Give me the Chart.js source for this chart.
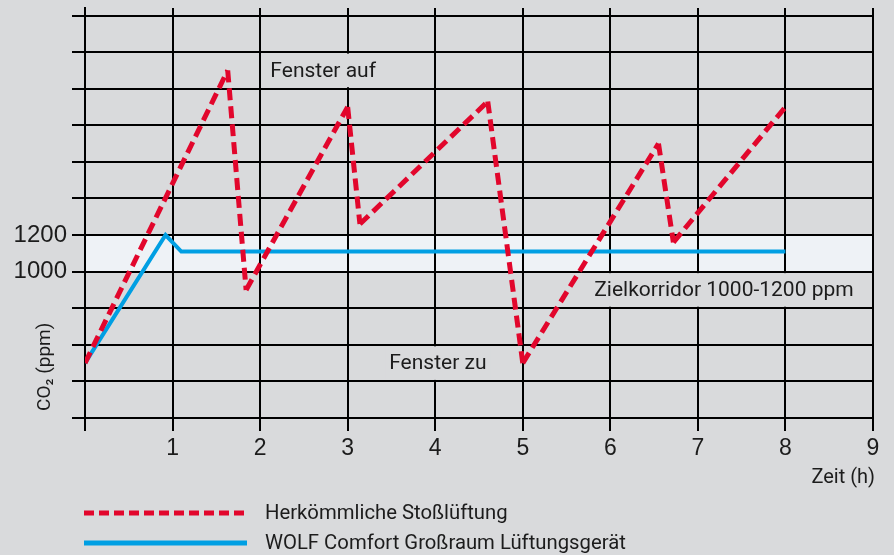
<!DOCTYPE html>
<html lang="de">
<head>
<meta charset="utf-8">
<title>CO₂-Verlauf: Stoßlüftung und Lüftungsgerät</title>
<script src="https://cdn.jsdelivr.net/npm/chart.js@4.4.1/dist/chart.umd.min.js"></script>
<style>
  html, body { margin: 0; padding: 0; background: #d9dadc; }
  #wrap { width: 894px; height: 555px; }
  canvas { display: block; }
</style>
</head>
<body>
<div id="wrap"><canvas id="co2" width="894" height="555"></canvas></div>
<script>
// Herkömmliche Stoßlüftung – Zeit (h) und CO2 (ppm)
const stossHours = [0, 1.63, 1.84, 3.0, 3.14, 4.6, 5.0, 6.55, 6.72, 8.0];
const stossPpm   = [500, 2100, 900, 1900, 1260, 1930, 500, 1700, 1160, 1900];

// WOLF Comfort Großraum Lüftungsgerät
const wolfHours = [0, 0.92, 1.1, 8.0];
const wolfPpm   = [500, 1200, 1110, 1110];

// Zielkorridor (ppm)
const corridor = [1000, 1200];

// Achsenbeschriftung
const yLabelled   = [1000, 1200];
const xTickLabels = ['', '1', '2', '3', '4', '5', '6', '7', '8', '9'];

const seriesNames = ['Herkömmliche Stoßlüftung', 'WOLF Comfort Großraum Lüftungsgerät'];
const RED  = '#e2062c';
const BLUE = '#009fe3';
const BG   = '#d9dadc';
const TEXT = '#1c1c1c';
const FONT = 'Roboto, "Liberation Sans", Arial, sans-serif';
const TICK_FONT = '"Liberation Sans", Arial, sans-serif';

// Beschriftungen im Diagramm, aus dem Raster ausgespart
const notes = [
  { text: 'Fenster auf', from: 2.06, to: 3.38, top: 2200, bottom: 2000 },
  { text: 'Fenster zu', from: 3.43, to: 4.63, top: 600, bottom: 400 },
  { text: 'Zielkorridor 1000-1200 ppm', from: 5.745, to: 8.85, top: 1000, bottom: 800 }
];

const toPoints = (xs, ys) => xs.map((x, i) => ({ x, y: ys[i] }));

const decorations = {
  id: 'decorations',
  beforeDraw(chart) {
    const { ctx, scales: { x, y } } = chart;
    ctx.save();
    ctx.fillStyle = BG;
    ctx.fillRect(0, 0, chart.width, chart.height);
    // heller Zielkorridor
    const x0 = x.getPixelForValue(0), x1 = x.getPixelForValue(9);
    const yTop = y.getPixelForValue(corridor[1]), yBot = y.getPixelForValue(corridor[0]);
    ctx.fillStyle = '#eef2f6';
    ctx.fillRect(x0, yTop, x1 - x0, yBot - yTop);
    ctx.restore();
  },
  beforeDatasetsDraw(chart) {
    const { ctx, scales: { x, y } } = chart;
    ctx.save();
    ctx.font = '21px ' + FONT;
    ctx.textAlign = 'center';
    ctx.textBaseline = 'middle';
    notes.forEach(n => {
      const l = x.getPixelForValue(n.from), r = x.getPixelForValue(n.to);
      const t = y.getPixelForValue(n.top) + 1.5, b = y.getPixelForValue(n.bottom) - 1.5;
      ctx.fillStyle = BG;
      ctx.fillRect(l, t, r - l, b - t);
      ctx.fillStyle = TEXT;
      ctx.fillText(n.text, (l + r) / 2, (t + b) / 2 + 1);
    });
    ctx.restore();
  },
  afterDraw(chart) {
    const { ctx, scales: { x, y }, chartArea } = chart;
    ctx.save();
    ctx.fillStyle = TEXT;

    // Achsentitel Zeit
    ctx.font = '20px ' + FONT;
    ctx.textAlign = 'right';
    ctx.textBaseline = 'middle';
    ctx.fillText('Zeit (h)', x.getPixelForValue(9) + 2, chartArea.bottom + 60);

    // Achsentitel CO2, senkrecht
    ctx.save();
    ctx.translate(45, y.getPixelForValue(480));
    ctx.rotate(-Math.PI / 2);
    ctx.font = '19px ' + FONT;
    ctx.textAlign = 'center';
    ctx.fillText('CO₂ (ppm)', 0, 0);
    ctx.restore();

    // Legende
    const lx0 = x.getPixelForValue(0) - 1, lx1 = lx0 + 163;
    const rows = [chartArea.bottom + 95, chartArea.bottom + 125];
    chart.data.datasets.forEach((ds, i) => {
      ctx.beginPath();
      ctx.lineWidth = 5;
      ctx.strokeStyle = ds.borderColor;
      ctx.setLineDash(ds.borderDash ? [10, 5] : []);
      ctx.moveTo(lx0, rows[i]);
      ctx.lineTo(lx1, rows[i]);
      ctx.stroke();
      ctx.setLineDash([]);
      ctx.font = '20.3px ' + FONT;
      ctx.textAlign = 'left';
      ctx.textBaseline = 'middle';
      ctx.fillStyle = TEXT;
      ctx.fillText(ds.label, 265, rows[i] + 1);
    });
    ctx.restore();
  }
};

const gridOpts = { color: '#000', lineWidth: 2, tickLength: 13, tickColor: '#000', tickWidth: 2 };

new Chart(document.getElementById('co2'), {
  type: 'scatter',
  data: {
    datasets: [
      {
        label: seriesNames[0],
        data: toPoints(stossHours, stossPpm),
        showLine: true,
        borderColor: RED,
        borderWidth: 5,
        borderDash: [12, 6],
        borderCapStyle: 'butt',
        borderJoinStyle: 'miter',
        pointRadius: 0,
        tension: 0,
        // jede Teilstrecke beginnt ihr Strichmuster am Knickpunkt
        segment: { borderDashOffset: c => (c.p0DataIndex % 2) * 0.001 }
      },
      {
        label: seriesNames[1],
        data: toPoints(wolfHours, wolfPpm),
        showLine: true,
        borderColor: BLUE,
        borderWidth: 4,
        borderJoinStyle: 'miter',
        pointRadius: 0,
        tension: 0
      }
    ]
  },
  options: {
    responsive: false,
    animation: false,
    devicePixelRatio: 1,
    layout: { padding: { top: 8, right: 21, left: 0, bottom: 0 } },
    plugins: { legend: { display: false }, tooltip: { enabled: false } },
    scales: {
      x: {
        type: 'linear',
        min: 0,
        max: 9,
        grid: gridOpts,
        border: { color: '#000', width: 2 },
        ticks: {
          stepSize: 1,
          autoSkip: false,
          maxRotation: 0,
          padding: 4,
          color: TEXT,
          font: { family: TICK_FONT, size: 23 },
          callback: v => xTickLabels[v] ?? ''
        },
        afterFit: s => { s.height = 137; s.paddingLeft = 0; s.paddingRight = 0; }
      },
      y: {
        type: 'linear',
        min: 200,
        max: 2441,
        grid: gridOpts,
        border: { color: '#000', width: 2 },
        ticks: {
          stepSize: 200,
          includeBounds: false,
          autoSkip: false,
          padding: 5,
          color: TEXT,
          font: { family: TICK_FONT, size: 24 },
          callback: v => yLabelled.includes(v) ? String(v) : ''
        },
        afterFit: s => { s.width = 85; s.paddingTop = 0; s.paddingBottom = 0; }
      }
    }
  },
  plugins: [decorations]
});
</script>
</body>
</html>
